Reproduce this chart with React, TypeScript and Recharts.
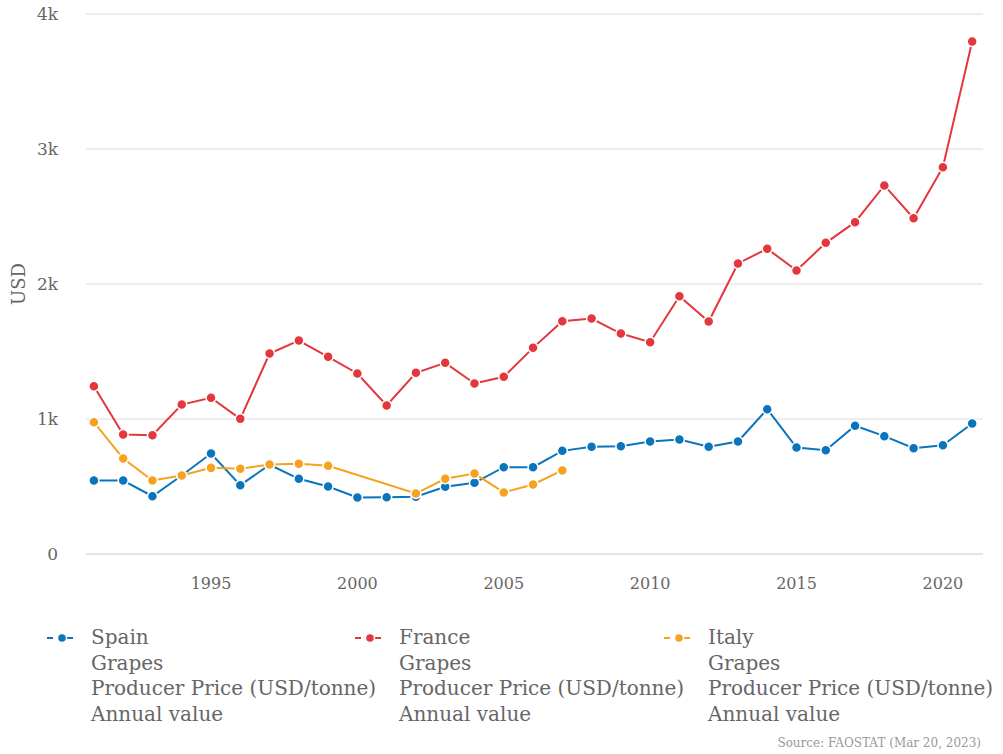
import React from 'react';
import { LineChart, Line, XAxis, YAxis, CartesianGrid } from 'recharts';

const years = [
    1991, 1992, 1993, 1994, 1995, 1996, 1997, 1998, 1999, 2000, 2001, 2002, 2003, 2004, 2005, 2006,
    2007, 2008, 2009, 2010, 2011, 2012, 2013, 2014, 2015, 2016, 2017, 2018, 2019, 2020, 2021,
];

const spain = [
    544, 544, 428, 581, 744, 510, 661, 557, 500, 419, 421, 424, 498, 527, 643, 643,
    764, 794, 799, 833, 848, 794, 833, 1073, 789, 769, 950, 873, 784, 806, 967,
];

const france = [
    1243, 885, 880, 1107, 1157, 1001, 1485, 1581, 1461, 1337, 1100, 1342, 1416, 1263, 1313, 1527,
    1724, 1744, 1633, 1569, 1910, 1722, 2152, 2261, 2100, 2305, 2458, 2730, 2487, 2865, 3796,
];

const italy: (number | null)[] = [
    976, 707, 544, 581, 638, 631, 663, 668, 653, null, null, 448, 557, 596, 456, 515,
    619, null, null, null, null, null, null, null, null, null, null, null, null, null, null,
];

const xTicks = [1995, 2000, 2005, 2010, 2015, 2020];
const yTicks = [0, 1000, 2000, 3000, 4000];

const seriesInfo = [
    { key: 'spain', name: 'Spain', color: '#0a75bd' },
    { key: 'france', name: 'France', color: '#e3373d' },
    { key: 'italy', name: 'Italy', color: '#f4a21f' },
];
const subLines = ['Grapes', 'Producer Price (USD/tonne)', 'Annual value'];

const data = years.map((year, i) => ({
    year,
    spain: spain[i],
    france: france[i],
    italy: italy[i],
}));

const font = '"DejaVu Serif", serif';

const formatY = (v: number) => (v === 0 ? '0' : `${v / 1000}k`);

// rotated axis title, centred on the plot height
const UsdLabel = (props: any) => {
    const { viewBox } = props;
    const cy = viewBox.y + viewBox.height / 2;
    return (
        <text x={18} y={cy} transform={`rotate(-90, 18, ${cy})`} textAnchor="middle" dominantBaseline="central"
            fill="#666" fontSize={18} fontFamily={font}>
            USD
        </text>
    );
};

const LegendBlock = () => (
    <div style={{ position: 'absolute', top: 625, left: 0, width: 1003, fontFamily: font, color: '#666', fontSize: 20 }}>
        {seriesInfo.map((s, i) => (
            <div key={s.key} style={{ position: 'absolute', left: [45, 353, 662][i], top: 0 }}>
                <svg width={34} height={26} style={{ position: 'absolute', left: 0, top: 0 }}>
                    <line x1={2} y1={13} x2={32} y2={13} stroke={s.color} strokeWidth={2} strokeDasharray="6 4" />
                    <circle cx={17} cy={13} r={4.5} fill={s.color} stroke="#fff" strokeWidth={1.5} />
                </svg>
                <div style={{ position: 'absolute', left: 46, top: 0, whiteSpace: 'nowrap', lineHeight: '25.5px' }}>
                    <div>{s.name}</div>
                    {subLines.map((t) => (
                        <div key={t}>{t}</div>
                    ))}
                </div>
            </div>
        ))}
    </div>
);

const App: React.FC = () => {
    return (
        <div style={{ position: 'absolute', left: 0, top: 0, width: 1003, height: 754, background: '#fff' }}>
            <LineChart width={1003} height={754} data={data} margin={{ top: 14, right: 20, left: 0, bottom: 160 }}>
                <CartesianGrid vertical={false} stroke="#dcdcdc" />
                <XAxis
                    dataKey="year"
                    type="number"
                    domain={[1990.73, 2021.37]}
                    ticks={xTicks}
                    allowDataOverflow
                    height={40}
                    tickLine={false}
                    axisLine={{ stroke: '#dcdcdc' }}
                    tickMargin={18}
                    tick={{ fill: '#666', fontSize: 16, fontFamily: font }}
                />
                <YAxis
                    domain={[0, 4000]}
                    ticks={yTicks}
                    width={86}
                    tickFormatter={formatY}
                    axisLine={false}
                    tickLine={false}
                    tickMargin={22}
                    tick={{ fill: '#666', fontSize: 17, fontFamily: font }}
                    label={<UsdLabel />}
                />
                {seriesInfo.map((s) => (
                    <Line
                        key={s.key}
                        dataKey={s.key}
                        name={s.name}
                        stroke={s.color}
                        strokeWidth={2}
                        connectNulls
                        isAnimationActive={false}
                        dot={{ r: 5, fill: s.color, stroke: '#fff', strokeWidth: 1.5 }}
                        activeDot={false}
                    />
                ))}
            </LineChart>
            <LegendBlock />
            <div style={{ position: 'absolute', right: 22, top: 736, fontFamily: font, fontSize: 12, color: '#999' }}>
                Source: FAOSTAT (Mar 20, 2023)
            </div>
        </div>
    );
};

export default App;
